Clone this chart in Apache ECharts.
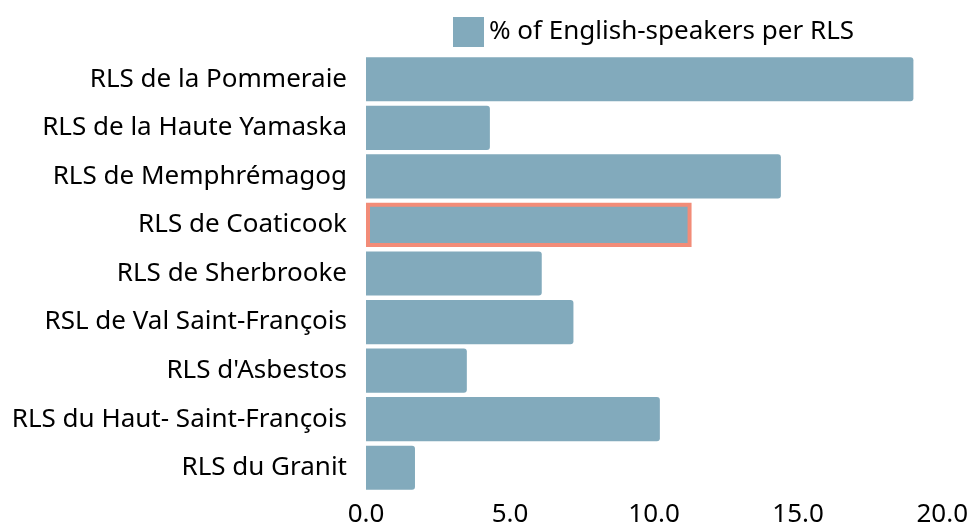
<!DOCTYPE html>
<html><head><meta charset="utf-8">
<script src="https://cdn.jsdelivr.net/npm/echarts@6/dist/echarts.min.js"></script>
<style>html,body{margin:0;padding:0;background:#fff}#c{width:971px;height:529px}</style>
</head><body><div id="c"></div>
<script>
const categories = ["RLS de la Pommeraie","RLS de la Haute Yamaska","RLS de Memphrémagog","RLS de Coaticook","RLS de Sherbrooke","RSL de Val Saint-François","RLS d'Asbestos","RLS du Haut- Saint-François","RLS du Granit"];
const values = [19.0, 4.3, 14.4, 11.3, 6.1, 7.2, 3.5, 10.2, 1.7];
const highlighted = "RLS de Coaticook";
const seriesName = "% of English-speakers per RLS";
const xTicks = [0, 5, 10, 15, 20];

const font = "Noto Sans";
const chart = echarts.init(document.getElementById('c'), null, {renderer: 'canvas'});
chart.setOption({
  animation: false,
  legend: {
    left: 448, top: 12, itemWidth: 31, itemHeight: 30, itemGap: 8, icon: 'rect',
    textStyle: {fontFamily: font, fontSize: 26, color: '#000'},
    data: [seriesName]
  },
  grid: {left: 366, right: 26, top: 55, bottom: 37, containLabel: false},
  xAxis: {
    type: 'value', min: 0, max: 20, interval: 5,
    axisLine: {show: false}, axisTick: {show: false}, splitLine: {show: false},
    axisLabel: {fontFamily: font, fontSize: 26, color: '#000', margin: 10,
      formatter: v => xTicks.includes(v) ? v.toFixed(1) : ''}
  },
  yAxis: {
    type: 'category', data: categories, inverse: true,
    axisLine: {show: false}, axisTick: {show: false},
    axisLabel: {fontFamily: font, fontSize: 26, color: '#000', margin: 19}
  },
  series: [{
    name: seriesName, type: 'bar', barCategoryGap: '9%',
    itemStyle: {color: '#82AABC', borderRadius: [0, 3, 3, 0]},
    data: values.map((v, i) => categories[i] === highlighted
      ? {value: v, itemStyle: {borderColor: '#F28C78', borderWidth: 4, borderRadius: 0}}
      : v)
  }]
});
</script></body></html>
